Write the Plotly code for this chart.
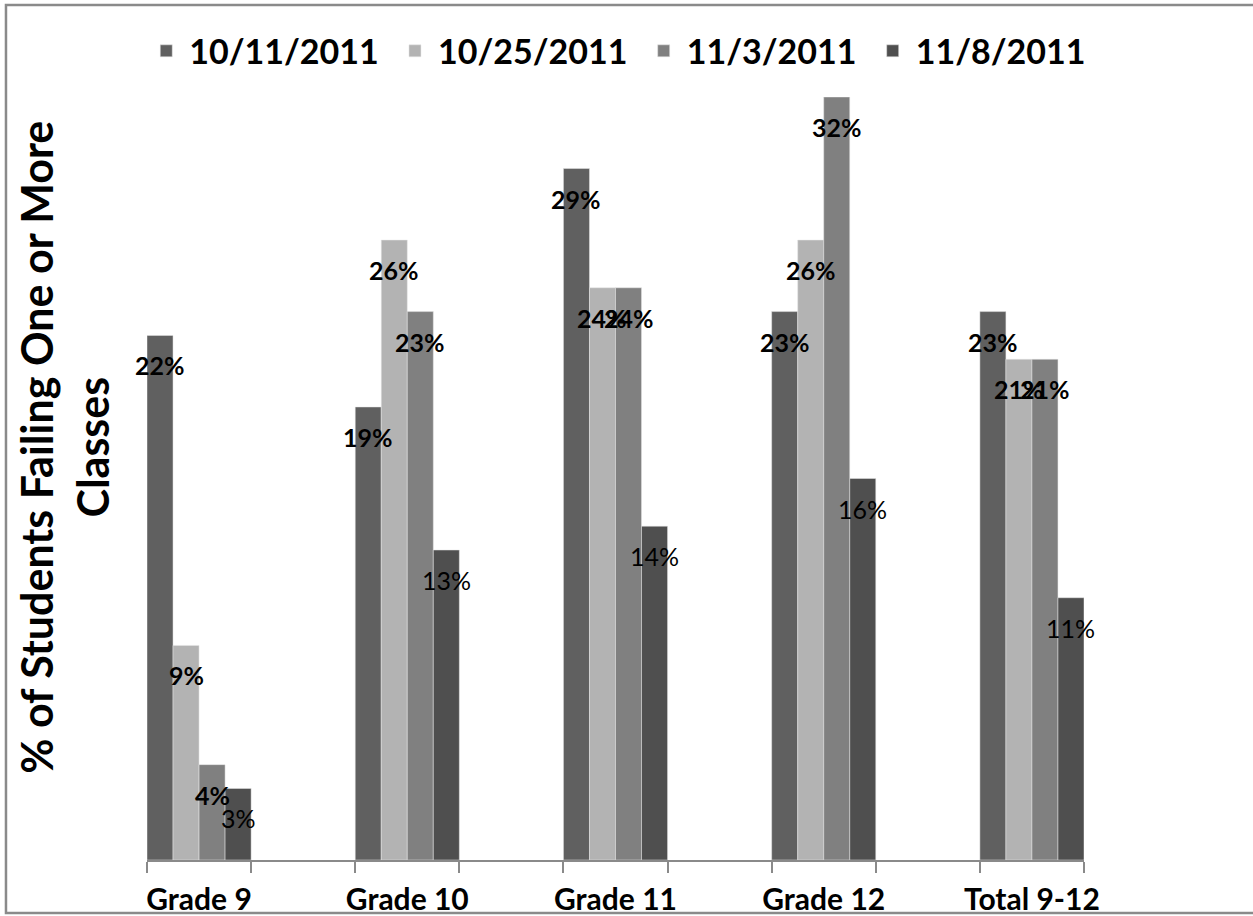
import plotly.graph_objects as go

categories = ["Grade 9", "Grade 10", "Grade 11", "Grade 12", "Total 9-12"]
dates = ["10/11/2011", "10/25/2011", "11/3/2011", "11/8/2011"]
s_1011 = [22, 19, 29, 23, 23]
s_1025 = [9, 26, 24, 26, 21]
s_1103 = [4, 23, 24, 32, 21]
s_1108 = [3, 13, 14, 16, 11]

series = [s_1011, s_1025, s_1103, s_1108]
colors = ["#606060", "#b3b3b3", "#808080", "#4f4f4f"]
label_bold = [True, True, True, False]

FONT = "Lato"
NBSP = "\u00a0"
# each category sits on every other slot of the axis (blank slot between)
xpos = [2 * j for j in range(len(categories))]

fig = go.Figure()
for name, vals, col in zip(dates, series, colors):
    fig.add_trace(go.Bar(
        x=xpos, y=vals, name=name + NBSP,
        marker=dict(color=col, line=dict(color="#e6e6e6", width=0.5)),
        hoverinfo="skip",
    ))

n = len(series)
bw = 1.0 / n
for i, vals in enumerate(series):
    for j, v in enumerate(vals):
        txt = f"{v}%"
        if label_bold[i]:
            txt = f"<b>{txt}</b>"
        fig.add_annotation(
            x=xpos[j] + (i - (n - 1) / 2) * bw, y=v, yshift=-30,
            text=txt, showarrow=False,
            font=dict(family=FONT, size=25, color="black"),
            xanchor="center", yanchor="middle",
        )

# y-axis title as rotated annotation
fig.add_annotation(
    xref="paper", yref="paper", x=-0.088, y=0.541,
    text="<b>% of Students Failing One or More<br>Classes</b>",
    textangle=-90, showarrow=False,
    font=dict(family=FONT, size=43, color="black"),
    xanchor="center", yanchor="middle",
)

# outer chart border (right edge lies beyond the picture)
fig.add_shape(type="rect", xref="paper", yref="paper",
              x0=-0.1505, x1=1.35, y0=-0.0695, y1=1.1206,
              line=dict(color="#8a8a8a", width=2.5), layer="above")

fig.update_layout(
    width=1253, height=916,
    margin=dict(l=147, r=169, t=97, b=56, autoexpand=False),
    paper_bgcolor="white", plot_bgcolor="white",
    barmode="group", bargap=0.5, bargroupgap=0,
    font=dict(family=FONT, color="black"),
    showlegend=True,
    legend=dict(
        orientation="h", xref="paper", yref="paper",
        x=-0.004, xanchor="left", y=1.06, yanchor="middle",
        font=dict(family=FONT, size=34, color="black", weight="bold"),
        itemwidth=36,
        bgcolor="rgba(0,0,0,0)",
    ),
    xaxis=dict(
        range=[-0.5, 2 * (len(categories) - 1) + 0.5],
        tickmode="array", tickvals=xpos,
        ticktext=[f"<b>{c}</b>" for c in categories],
        ticks="", ticklabelstandoff=12,
        tickfont=dict(family=FONT, size=30, color="black"),
        showline=True, linecolor="#8a8a8a", linewidth=1.5,
        showgrid=False, zeroline=False,
        minor=dict(tickmode="linear", tick0=-0.5, dtick=1, ticks="outside",
                   ticklen=11, tickcolor="#8a8a8a", tickwidth=1.5, showgrid=False),
        fixedrange=True, automargin=False,
    ),
    yaxis=dict(
        range=[0, 32], showline=False, showticklabels=False,
        showgrid=False, zeroline=False, ticks="", fixedrange=True,
        automargin=False,
    ),
)

fig.write_html("out.html", config={"displayModeBar": False},
               post_script="document.body.style.margin='0';document.body.style.overflow='hidden';")
